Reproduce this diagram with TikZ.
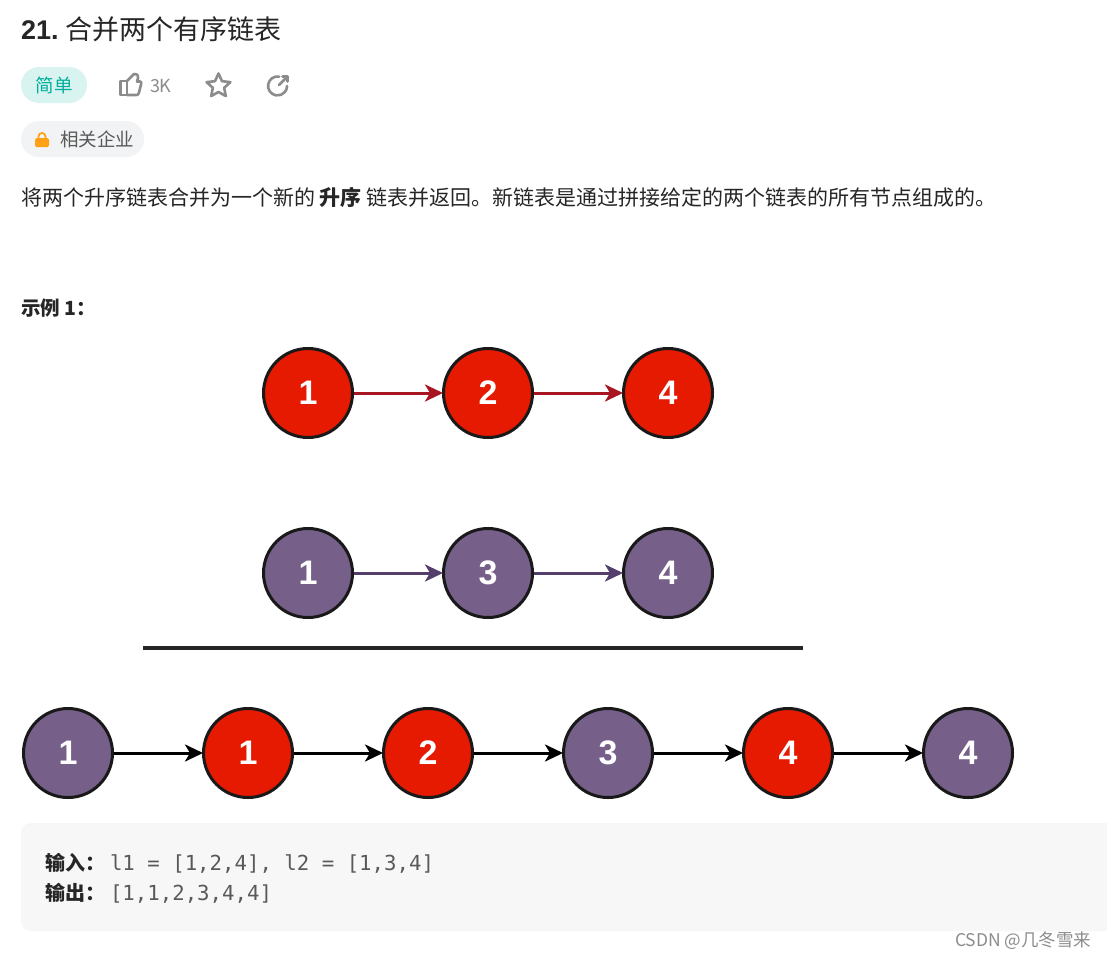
\documentclass[tikz,border=0pt]{standalone}
\usepackage{fontspec}
\setmainfont{Noto Sans CJK SC}
\newfontfamily\monof{DejaVu Sans Mono}
\newfontfamily\numf{Liberation Sans}
\usetikzlibrary{arrows.meta,shapes.geometric}
\definecolor{red1}{HTML}{E61A00}
\definecolor{pur1}{HTML}{76608A}
\definecolor{redarr}{HTML}{A81622}
\definecolor{purarr}{HTML}{543E6C}
\definecolor{ink}{HTML}{262626}
\definecolor{codegr}{HTML}{595959}
\definecolor{icongr}{HTML}{8C8C8C}
\definecolor{pillteal}{HTML}{D9F3F0}
\definecolor{tealtxt}{HTML}{00AF9B}
\definecolor{pillgr}{HTML}{F2F3F5}
\definecolor{boxgr}{HTML}{F7F7F7}
\definecolor{lockor}{HTML}{FFA116}
\tikzset{
  x=1pt,y=-1pt,
  lnode/.style={circle,draw=black!90,line width=3pt,minimum size=89pt,inner sep=0pt,text=white,font=\fontsize{34}{34}\selectfont\numf\bfseries},
  rednode/.style={lnode,fill=red1},
  purnode/.style={lnode,fill=pur1},
  link/.style={-{Stealth[length=18pt,width=17pt,inset=5pt]},line width=3pt,shorten >=-1pt},
  txt/.style={anchor=base west,inner sep=0pt,outer sep=0pt,text=ink},
  icon/.style={draw=icongr,line width=2.6pt,line join=round,line cap=round}
}
\begin{document}
\begin{tikzpicture}
\useasboundingbox[fill=white] (0,0) rectangle (1107,958);
% header
\node[txt,font=\fontsize{27}{27}\selectfont\numf\bfseries] (num) at (21,40) {21.};
\node[txt,font=\fontsize{27}{27}\selectfont] (title) at (65,40) {合并两个有序链表};
\fill[fill=pillteal,rounded corners=18pt] (21,67) rectangle (87,103);
\node[font=\fontsize{18.5}{18.5}\selectfont,text=tealtxt,inner sep=0pt] (easy) at (54,85.5) {简单};
% thumb
\draw[icon] (120.5,81) rectangle (127,95);
\draw[icon] (127,81) -- (132.5,75.5) -- (134,74) .. controls (136,73) and (138.5,75) .. (138,78) -- (137,81.5) -- (140,81.5) .. controls (141.5,81.5) and (141.5,83) .. (141,84.5) -- (139,92.5) .. controls (138.5,95) and (137.5,95) .. (136,95) -- (127,95);
\node[txt,font=\fontsize{18}{18}\selectfont,text=icongr] (likes) at (150,92) {3K};
% star
\node[star,star points=5,star point ratio=2.1,draw=icongr,line width=2.6pt,minimum size=25pt,inner sep=0pt,line join=round] (fav) at (218.5,86) {};
% share
\draw[icon] (279.2,76.6) arc[start angle=80,end angle=360,radius=9.5pt];
\draw[icon] (279,85) -- (287.5,76.5);
\draw[icon] (282.5,76.5) -- (287.5,76.5) -- (287.5,81.5);
% company pill
\fill[fill=pillgr,rounded corners=18pt] (21,121) rectangle (144,157);
\fill[lockor,rounded corners=1.5pt] (35,138) rectangle (49,147);
\draw[lockor,line width=1.8pt] (38.5,138.5) -- (38.5,136.5) arc[start angle=180,end angle=0,radius=3.5pt] -- (45.5,138.5);
\node[txt,font=\fontsize{18.5}{18.5}\selectfont,text=codegr] (comp) at (60,146) {相关企业};
% description
\node[txt,font=\fontsize{21}{21}\selectfont] (desc) at (21,205) {将两个升序链表合并为一个新的 \textbf{升序} 链表并返回。新链表是通过拼接给定的两个链表的所有节点组成的。};
\node[txt,font=\fontsize{19.5}{19.5}\selectfont\bfseries] (ex) at (21,315) {示例 1：};
% row 1
\node[rednode] (a1) at (308,393) {1};
\node[rednode] (a2) at (488,393) {2};
\node[rednode] (a3) at (668,393) {4};
\draw[link,redarr] (a1) -- (a2);
\draw[link,redarr] (a2) -- (a3);
% row 2
\node[purnode] (b1) at (308,573) {1};
\node[purnode] (b2) at (488,573) {3};
\node[purnode] (b3) at (668,573) {4};
\draw[link,purarr] (b1) -- (b2);
\draw[link,purarr] (b2) -- (b3);
% rule
\coordinate (r1) at (143,648);
\coordinate (r2) at (803,648);
\draw[line width=3.4pt,black!85] (r1) -- (r2);
% row 3
\node[purnode] (c1) at (68,753) {1};
\node[rednode] (c2) at (248,753) {1};
\node[rednode] (c3) at (428,753) {2};
\node[purnode] (c4) at (608,753) {3};
\node[rednode] (c5) at (788,753) {4};
\node[purnode] (c6) at (968,753) {4};
\draw[link,black] (c1) -- (c2);
\draw[link,black] (c2) -- (c3);
\draw[link,black] (c3) -- (c4);
\draw[link,black] (c4) -- (c5);
\draw[link,black] (c5) -- (c6);
% code box
\fill[boxgr,rounded corners=10pt] (21,823) rectangle (1130,931);
\node[txt,font=\fontsize{20}{20}\selectfont\bfseries] (in) at (45,870) {输入：};
\node[txt,font=\fontsize{20.7}{20.7}\selectfont\monof,text=codegr] (inv) at (110,870) {l1 = [1,2,4], l2 = [1,3,4]};
\node[txt,font=\fontsize{20}{20}\selectfont\bfseries] (out) at (45,900) {输出：};
\node[txt,font=\fontsize{20.7}{20.7}\selectfont\monof,text=codegr] (outv) at (110,900) {[1,1,2,3,4,4]};
% watermark
\node[txt,font=\fontsize{17.5}{17.5}\selectfont,text=black!45] (wm) at (955,946) {CSDN @几冬雪来};
\end{tikzpicture}
\end{document}
